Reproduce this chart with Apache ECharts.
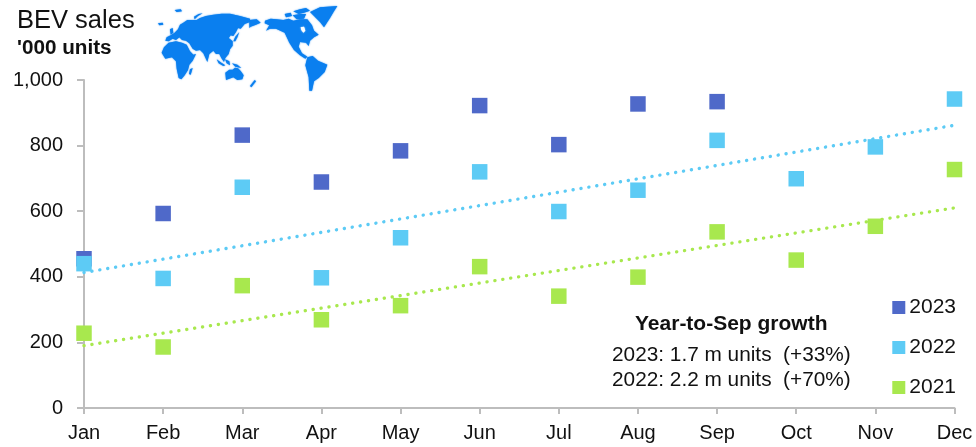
<!DOCTYPE html>
<html><head><meta charset="utf-8">
<style>html,body{margin:0;padding:0;background:#fff}#c{width:976px;height:447px}</style>
<script src="https://cdn.jsdelivr.net/npm/echarts@6/dist/echarts.min.js"></script>
</head><body><div id="c"></div>
<script>
const months=['Jan','Feb','Mar','Apr','May','Jun','Jul','Aug','Sep','Oct','Nov','Dec'];
const yTicks=[0,200,400,600,800,1000];
const sales2023=[455,593,832,689,784,922,803,927,934,null,null,null];
const sales2022=[440,395,673,397,519,720,599,664,816,699,796,942];
const sales2021=[228,186,373,269,312,431,341,399,537,451,554,727];
const trendEnds2022=[413,862];
const trendEnds2021=[190,610];
const colors={y2023:'#4F69C9',y2022:'#5DCBF5',y2021:'#A8E84E'};
const font='"Liberation Sans",Arial,sans-serif';
const trendLine=(ends)=>months.map((m,i)=>[m,ends[0]+(ends[1]-ends[0])*i/11]);
const scatter=(name,data,color)=>({name,type:'scatter',symbol:'rect',symbolSize:15.5,data,itemStyle:{color,opacity:1},z:3,silent:true});
const trend=(name,ends,color)=>({name,type:'line',data:trendLine(ends),symbol:'none',lineStyle:{color,width:3.4,type:[0.1,7.9],cap:'round'},z:2,silent:true});
const landWest=[
 [[100,68],[112,60],[128,60],[140,60],[150,54],[168,48],[190,44],[215,41],[240,41],[270,48],[300,56],[300,66],[284,72],[272,86],[264,84],[258,96],[250,108],[242,106],[236,114],[248,124],[248,137],[240,148],[236,162],[226,174],[222,186],[214,174],[208,162],[198,162],[190,152],[178,162],[172,186],[160,160],[150,150],[138,152],[128,146],[118,130],[108,122],[96,120],[88,112],[78,120],[68,116],[56,124],[46,122],[50,112],[62,106],[74,98],[84,88],[90,74]],
 [[35,158],[42,142],[56,128],[78,124],[96,128],[110,134],[120,154],[130,164],[138,162],[128,182],[118,194],[114,210],[104,226],[94,238],[86,234],[80,206],[78,184],[66,172],[46,176]],
 [[226,218],[238,209],[248,209],[255,203],[264,205],[272,213],[281,226],[277,238],[262,240],[250,232],[228,240]],
 [[128,204],[122,224],[117,222],[120,208]],
 [[268,96],[262,112],[256,124],[250,124],[256,110]],
 [[200,178],[214,188],[226,196],[220,198],[206,190]],
 [[225,178],[238,184],[240,196],[230,190]],
 [[246,190],[262,194],[274,204],[256,200]],
 [[24,70],[38,68],[40,74],[28,76]],
 [[60,88],[68,84],[70,98],[62,104]],
 [[74,30],[92,28],[96,34],[80,36]],
 [[132,50],[146,42],[158,40],[144,48],[134,58]]
];
const landEast=[
 [[-2,60],[20,58],[32,68],[18,74],[2,80],[-2,84]],
 [[45,62],[62,56],[80,58],[100,60],[116,56],[130,62],[150,58],[172,58],[186,76],[192,92],[206,104],[192,112],[180,122],[176,138],[168,128],[150,126],[146,140],[156,160],[172,170],[166,176],[150,166],[132,150],[118,128],[104,98],[78,86],[60,86],[48,92],[58,76],[44,70]],
 [[152,82],[162,80],[166,92],[160,98],[154,90]],
 [[180,36],[210,22],[262,18],[252,34],[240,54],[222,82],[210,66],[192,48]],
 [[104,42],[122,38],[126,48],[108,52]],
 [[130,34],[150,28],[168,24],[180,32],[162,38],[146,42]],
 [[128,46],[150,42],[168,42],[162,56],[140,58]],
 [[172,172],[188,168],[204,182],[232,194],[224,216],[206,234],[192,244],[186,272],[178,272],[176,232],[166,196]],
 [[0,258],[14,240],[18,244],[4,262]]
];
const mapPoly=(p,x,fill)=>({type:'polygon',x,y:0,scaleX:1/3,scaleY:1/3,shape:{points:p},style:{fill,shadowBlur:1.5,shadowColor:fill},z:1,silent:true});
const chart=echarts.init(document.getElementById('c'),null,{renderer:'canvas'});
chart.setOption({
 animation:false,backgroundColor:'#fff',
 grid:{left:84,right:21.5,top:80,bottom:39,containLabel:false},
 legend:{right:15,top:292,orient:'vertical',itemGap:19,itemWidth:13,itemHeight:13,
  icon:'rect',data:['2023','2022','2021'],selectedMode:false,
  textStyle:{fontFamily:font,fontSize:21,color:'#111',padding:[1,0,0,-1]}},
 xAxis:{type:'category',boundaryGap:false,data:months,
  axisLine:{lineStyle:{color:'#BDBDBD',width:2}},
  axisTick:{length:6,lineStyle:{color:'#BDBDBD',width:2},alignWithLabel:true},
  axisLabel:{fontFamily:font,fontSize:20,color:'#111',margin:15,interval:0,showMaxLabel:true,showMinLabel:true}},
 yAxis:{type:'value',min:0,max:1000,interval:200,
  axisLine:{show:true,lineStyle:{color:'#BDBDBD',width:2}},
  axisTick:{show:true,length:7,lineStyle:{color:'#BDBDBD',width:2}},
  splitLine:{show:false},
  axisLabel:{fontFamily:font,fontSize:20,color:'#111',margin:21,padding:[3,0,0,0],
   formatter:v=>yTicks.includes(v)?v.toLocaleString('en-US'):''}},
 series:[
  trend('t2022',trendEnds2022,colors.y2022),
  trend('t2021',trendEnds2021,colors.y2021),
  scatter('2023',sales2023,colors.y2023),
  scatter('2022',sales2022,colors.y2022),
  scatter('2021',sales2021,colors.y2021)
 ],
 graphic:{elements:[
  ...landWest.map(p=>mapPoly(p,150,'#0A7FEF')),
  ...landEast.map((p,i)=>mapPoly(p,250,i===2?'#fff':'#0A7FEF')),
  {type:'text',x:17,y:8,style:{text:'BEV sales',font:'25.5px '+font,fill:'#111'}},
  {type:'text',x:17,y:38,style:{text:"'000 units",font:'bold 20.7px '+font,fill:'#111'}},
  {type:'text',x:635,y:314,style:{text:'Year-to-Sep growth',font:'bold 21px '+font,fill:'#111'}},
  {type:'text',x:612,y:345,style:{text:'2023: 1.7 m units  (+33%)',font:'20.8px '+font,fill:'#111'}},
  {type:'text',x:612,y:370,style:{text:'2022: 2.2 m units  (+70%)',font:'20.8px '+font,fill:'#111'}}
 ]}
});
</script></body></html>
